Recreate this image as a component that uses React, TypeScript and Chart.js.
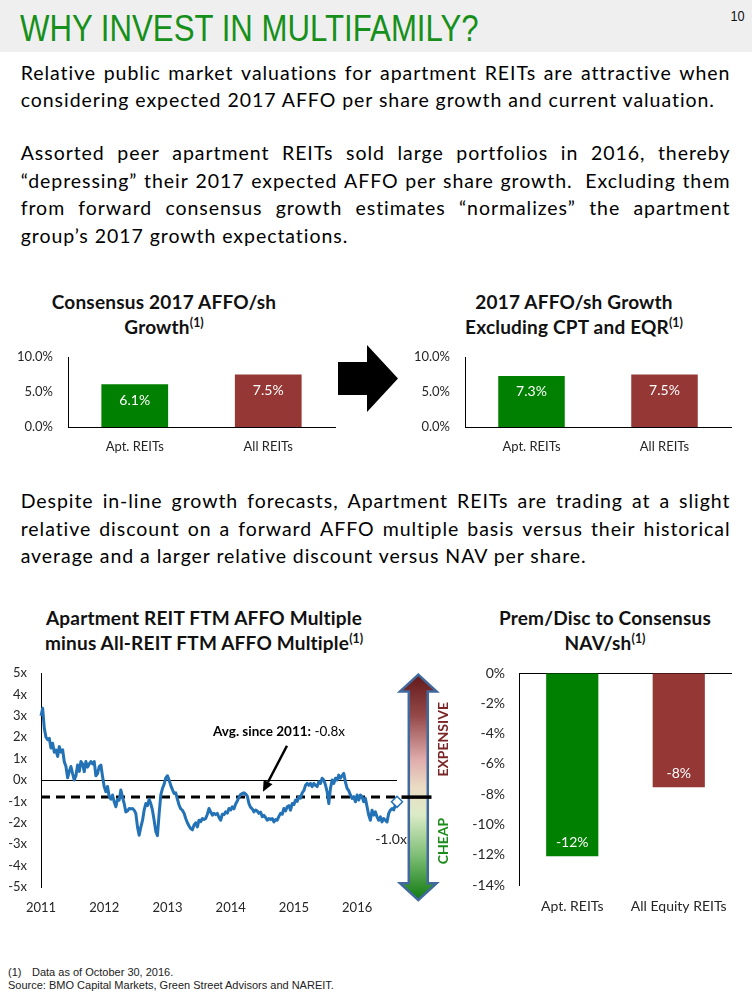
import React, { useEffect, useRef } from 'react';
import { Chart, registerables } from 'chart.js';

Chart.register(...registerables);
const LATO = 'Lato, "Open Sans", sans-serif';
Chart.defaults.font.family = LATO;
Chart.defaults.color = '#262626';

// ---------------- data ----------------
const GROWTH_CATEGORIES = ['Apt. REITs', 'All REITs'];
const CONSENSUS_GROWTH = [6.1, 7.5];
const GROWTH_EX_CPT_EQR = [7.3, 7.5];

const NAV_CATEGORIES = ['Apt. REITs', 'All Equity REITs'];
const NAV_PREM_DISC = [-12.1, -7.55];

const YEAR_TICKS = [2011, 2012, 2013, 2014, 2015, 2016];
const SPREAD_FIRST_DATE = 2011.0;
const SPREAD_LAST_DATE = 2016.63;
const SPREAD_VALUES = [
  3.0, 3.35, 2.4, 2.0, 1.88, 1.95, 1.5, 1.72, 1.3, 1.4,
  1.1, 1.56, 1.3, 1.41, 0.85, 0.63, 0.1, 0.4, 0.63, 0.3,
  0.0, 0.2, 0.7, 0.4, 0.86, 0.75, 0.39, 0.86, 0.6, 0.75,
  0.86, 0.75, 0.86, 0.2, 0.3, 0.63, 0.7, 0.16, -0.31, -0.55,
  -0.3, -0.78, -0.9, -0.7, -1.02, -1.25, -0.9, -0.94, -0.47, -0.8,
  -1.1, -1.49, -1.45, -1.33, -1.35, -1.33, -1.41, -1.56, -2.19, -2.58,
  -2.2, -1.9, -1.41, -1.1, -1.2, -0.9, -1.1, -1.41, -1.88, -2.4,
  -2.6, -1.6, -0.7, -0.4, -0.2, 0.1, 0.2, 0.0, -0.25, -0.45,
  -0.63, -0.6, -0.9, -1.17, -1.35, -1.41, -1.55, -1.8, -2.0, -2.15,
  -2.27, -2.33, -2.1, -2.0, -2.19, -1.88, -1.95, -1.8, -1.85, -1.8,
  -1.6, -1.33, -1.5, -1.64, -1.56, -1.62, -1.56, -1.75, -1.88, -1.6,
  -1.62, -1.49, -1.55, -1.33, -1.4, -1.25, -1.35, -1.12, -0.98, -0.8,
  -0.68, -0.63, -0.6, -0.65, -0.75, -1.1, -1.28, -1.35, -1.49, -1.4,
  -1.45, -1.56, -1.5, -1.72, -1.65, -1.75, -1.88, -1.8, -1.85, -1.8,
  -1.96, -1.85, -1.88, -1.7, -1.56, -1.6, -1.33, -1.45, -1.25, -1.2,
  -1.41, -1.1, -1.15, -0.94, -1.0, -0.78, -0.85, -0.6, -0.5, -0.25,
  -0.16, -0.25, -0.16, -0.31, -0.16, -0.25, -0.31, -0.08, -0.16, 0.08,
  0.0, -0.23, -0.55, -1.1, -0.4, 0.0, -0.16, 0.08, 0.0, 0.23,
  0.08, 0.2, 0.31, -0.1, -0.39, -0.5, -0.7, -0.86, -0.78, -1.02,
  -0.7, -0.94, -0.7, -0.78, -1.02, -0.86, -1.25, -1.64, -1.88, -1.41,
  -1.64, -1.49, -1.72, -1.88, -1.72, -1.96, -1.8, -1.88, -1.96, -1.56,
  -1.41, -1.33, -1.4, -1.17, -1.02,
];
const AVG_SINCE_2011 = -0.8;
const LAST_LABEL = '-1.0x';

// ---------------- colours ----------------
const GREEN = '#008000';
const RED = '#953735';
const BLUE = '#2372b6';
const TITLE_GREEN = '#16901a';

// ---------------- helpers ----------------
function ChartCanvas({ make, left, top, width, height }: any) {
  const ref = useRef<HTMLCanvasElement>(null);
  useEffect(() => {
    const chart = new Chart(ref.current as HTMLCanvasElement, make());
    return () => chart.destroy();
  }, []);
  return (
    <canvas
      ref={ref}
      width={width}
      height={height}
      style={{ position: 'absolute', left, top, width, height }}
    />
  );
}

function fixY(width: number) {
  return (s: any) => {
    s.width = width;
    s.paddingTop = 0;
    s.paddingBottom = 0;
  };
}

function barConfig(o: any) {
  const valueLabels = {
    id: 'valueLabels',
    afterDatasetsDraw(chart: any) {
      const ctx = chart.ctx;
      const meta = chart.getDatasetMeta(0);
      ctx.save();
      ctx.fillStyle = '#ffffff';
      ctx.font = `${o.valueSize}px ${LATO}`;
      ctx.textAlign = 'center';
      ctx.textBaseline = 'middle';
      meta.data.forEach((bar: any, i: number) => {
        const v = o.values[i];
        const y = v >= 0 ? bar.y + 16 : bar.y - 14;
        ctx.fillText(o.valueFmt(v), bar.x, y);
      });
      ctx.restore();
    },
  };
  return {
    type: 'bar',
    data: {
      labels: o.labels,
      datasets: [
        {
          data: o.values,
          backgroundColor: o.colors,
          borderWidth: 0,
          barPercentage: 1,
          categoryPercentage: o.catPct,
        },
      ],
    },
    options: {
      responsive: false,
      animation: false,
      events: [],
      layout: { padding: o.pad },
      plugins: { legend: { display: false }, tooltip: { enabled: false } },
      scales: {
        x: {
          grid: { display: false, drawTicks: false },
          border: { display: o.xBorder, color: '#000', width: 1 },
          ticks: { padding: o.tickPadX, font: { size: o.catSize }, color: '#262626', maxRotation: 0 },
          afterFit: (s: any) => {
            s.height = o.xHeight;
          },
        },
        y: {
          min: o.min,
          max: o.max,
          grid: {
            display: o.zeroLine,
            drawTicks: false,
            color: (c: any) => (c.tick && c.tick.value === 0 ? '#000' : 'rgba(0,0,0,0)'),
            lineWidth: 1,
          },
          border: { display: true, color: '#000', width: 1 },
          ticks: {
            stepSize: o.step,
            padding: o.tickPadY,
            callback: (v: any) => o.tickFmt(Number(v)),
            font: { size: o.tickSize },
            color: '#262626',
          },
          afterFit: fixY(o.yWidth),
        },
      },
    },
    plugins: [valueLabels],
  };
}

const makeConsensus = () =>
  barConfig({
    labels: GROWTH_CATEGORIES,
    values: CONSENSUS_GROWTH,
    colors: [GREEN, RED],
    min: 0,
    max: 10,
    step: 5,
    tickFmt: (v: number) => v.toFixed(1) + '%',
    valueFmt: (v: number) => v.toFixed(1) + '%',
    yWidth: 68,
    xHeight: 33,
    pad: { top: 12, right: 10, left: 0, bottom: 0 },
    tickSize: 13,
    catSize: 13,
    valueSize: 14,
    catPct: 0.5,
    xBorder: true,
    zeroLine: false,
    tickPadX: 12,
    tickPadY: 15,
  });

const makeExcl = () =>
  barConfig({
    labels: GROWTH_CATEGORIES,
    values: GROWTH_EX_CPT_EQR,
    colors: [GREEN, RED],
    min: 0,
    max: 10,
    step: 5,
    tickFmt: (v: number) => v.toFixed(1) + '%',
    valueFmt: (v: number) => v.toFixed(1) + '%',
    yWidth: 89,
    xHeight: 33,
    pad: { top: 12, right: 10, left: 0, bottom: 0 },
    tickSize: 13,
    catSize: 13,
    valueSize: 14,
    catPct: 0.5,
    xBorder: true,
    zeroLine: false,
    tickPadX: 12,
    tickPadY: 15,
  });

const makeNav = () =>
  barConfig({
    labels: NAV_CATEGORIES,
    values: NAV_PREM_DISC,
    colors: [GREEN, RED],
    min: -14,
    max: 0,
    step: 2,
    tickFmt: (v: number) => v.toFixed(0) + '%',
    valueFmt: (v: number) => v.toFixed(0) + '%',
    yWidth: 79,
    xHeight: 35,
    pad: { top: 13, right: 20, left: 0, bottom: 0 },
    tickSize: 14,
    catSize: 14,
    valueSize: 14,
    catPct: 0.49,
    xBorder: false,
    zeroLine: true,
    tickPadX: 13,
    tickPadY: 14,
  });

const spreadDecor = {
  id: 'spreadDecor',
  beforeDatasetsDraw(chart: any) {
    const { ctx, chartArea: a, scales } = chart;
    const avgY = scales.y.getPixelForValue(AVG_SINCE_2011);
    ctx.save();
    ctx.strokeStyle = '#000';
    ctx.lineWidth = 3;
    ctx.setLineDash([9, 6]);
    ctx.beginPath();
    ctx.moveTo(a.left, avgY);
    ctx.lineTo(a.right + 2, avgY);
    ctx.stroke();
    ctx.restore();
  },
  afterDraw(chart: any) {
    const { ctx, chartArea: a, scales } = chart;
    const x = scales.x;
    const y = scales.y;
    const avgY = y.getPixelForValue(AVG_SINCE_2011);

    // gradient double arrow (expensive / cheap)
    const cx = a.right + 21.3;
    const top = a.top + 1.7;
    const bot = a.bottom + 13;
    const hw = 18.3;
    const sw = 9.5;
    const hh = 16.7;
    ctx.save();
    const g = ctx.createLinearGradient(0, top, 0, bot);
    g.addColorStop(0, '#62191a');
    g.addColorStop(0.18, '#944848');
    g.addColorStop(0.38, '#e0adad');
    g.addColorStop(0.5, '#eadcc4');
    g.addColorStop(0.62, '#dcebc8');
    g.addColorStop(0.8, '#7fbf77');
    g.addColorStop(1, '#107a10');
    ctx.beginPath();
    ctx.moveTo(cx, top);
    ctx.lineTo(cx + hw, top + hh);
    ctx.lineTo(cx + sw, top + hh);
    ctx.lineTo(cx + sw, bot - hh);
    ctx.lineTo(cx + hw, bot - hh);
    ctx.lineTo(cx, bot);
    ctx.lineTo(cx - hw, bot - hh);
    ctx.lineTo(cx - sw, bot - hh);
    ctx.lineTo(cx - sw, top + hh);
    ctx.lineTo(cx - hw, top + hh);
    ctx.closePath();
    ctx.fillStyle = g;
    ctx.fill();
    ctx.strokeStyle = '#41699e';
    ctx.lineWidth = 2.5;
    ctx.lineJoin = 'miter';
    ctx.stroke();

    // solid avg marker across the arrow
    ctx.strokeStyle = '#000';
    ctx.lineWidth = 3.5;
    ctx.beginPath();
    ctx.moveTo(a.right + 4.5, avgY);
    ctx.lineTo(a.right + 34.5, avgY);
    ctx.stroke();

    // EXPENSIVE / CHEAP
    ctx.font = `bold 14px ${LATO}`;
    ctx.textAlign = 'center';
    ctx.textBaseline = 'middle';
    ctx.save();
    ctx.translate(cx + 25, y.getPixelForValue(1.9));
    ctx.rotate(-Math.PI / 2);
    ctx.fillStyle = '#7a2526';
    ctx.fillText('EXPENSIVE', 0, 0);
    ctx.restore();
    ctx.save();
    ctx.translate(cx + 25, y.getPixelForValue(-2.85));
    ctx.rotate(-Math.PI / 2);
    ctx.fillStyle = '#1b8c1b';
    ctx.fillText('CHEAP', 0, 0);
    ctx.restore();

    // last value label
    const meta = chart.getDatasetMeta(0);
    const last = meta.data[meta.data.length - 1];
    ctx.font = `14px ${LATO}`;
    ctx.fillStyle = '#262626';
    ctx.fillText(LAST_LABEL, last.x - 6, last.y + 38);

    // Avg annotation
    const tx = x.getPixelForValue(2013.72);
    const ty = y.getPixelForValue(2.06);
    ctx.textAlign = 'left';
    ctx.textBaseline = 'alphabetic';
    ctx.font = `bold 13.5px ${LATO}`;
    ctx.fillStyle = '#000';
    const boldTxt = 'Avg. since 2011:';
    ctx.fillText(boldTxt, tx, ty);
    const bw = ctx.measureText(boldTxt).width;
    ctx.font = `13.5px ${LATO}`;
    ctx.fillText(' -0.8x', tx + bw, ty);

    // arrow from label to average line
    const x0 = x.getPixelForValue(2014.89);
    const y0 = y.getPixelForValue(1.6);
    const x1 = x.getPixelForValue(2014.51);
    const y1 = y.getPixelForValue(-0.55);
    const ang = Math.atan2(y1 - y0, x1 - x0);
    const hl = 11;
    const hwid = 5;
    const bx = x1 - hl * Math.cos(ang);
    const by = y1 - hl * Math.sin(ang);
    ctx.strokeStyle = '#000';
    ctx.lineWidth = 2.5;
    ctx.beginPath();
    ctx.moveTo(x0, y0);
    ctx.lineTo(bx, by);
    ctx.stroke();
    ctx.beginPath();
    ctx.moveTo(x1, y1);
    ctx.lineTo(bx + hwid * Math.sin(ang), by - hwid * Math.cos(ang));
    ctx.lineTo(bx - hwid * Math.sin(ang), by + hwid * Math.cos(ang));
    ctx.closePath();
    ctx.fillStyle = '#000';
    ctx.fill();
    ctx.restore();
  },
};

const makeSpread = () => {
  const n = SPREAD_VALUES.length;
  const step = (SPREAD_LAST_DATE - SPREAD_FIRST_DATE) / (n - 1);
  const points = SPREAD_VALUES.map((v, i) => ({ x: SPREAD_FIRST_DATE + i * step, y: v }));
  return {
    type: 'line',
    data: {
      datasets: [
        {
          data: points,
          borderColor: BLUE,
          borderWidth: 3,
          borderJoinStyle: 'round',
          tension: 0,
          clip: false,
          pointRadius: (c: any) => (c.dataIndex === n - 1 ? 5.5 : 0),
          pointStyle: 'rectRot',
          pointBackgroundColor: '#ffffff',
          pointBorderColor: BLUE,
          pointBorderWidth: 1.5,
        },
      ],
    },
    options: {
      responsive: false,
      animation: false,
      events: [],
      layout: { padding: { top: 13, right: 63, left: 0, bottom: 0 } },
      plugins: { legend: { display: false }, tooltip: { enabled: false } },
      scales: {
        x: {
          type: 'linear',
          min: SPREAD_FIRST_DATE,
          max: SPREAD_LAST_DATE,
          afterBuildTicks: (s: any) => {
            s.ticks = YEAR_TICKS.map((v) => ({ value: v }));
          },
          grid: { display: false, drawTicks: false },
          border: { display: false },
          ticks: { padding: 13, callback: (v: any) => String(v), font: { size: 13 }, color: '#262626', maxRotation: 0 },
          afterFit: (s: any) => {
            s.height = 33;
          },
        },
        y: {
          min: -5,
          max: 5,
          grid: {
            drawTicks: false,
            color: (c: any) => (c.tick && c.tick.value === 0 ? '#000' : 'rgba(0,0,0,0)'),
            lineWidth: 1,
          },
          border: { display: true, color: '#000', width: 1 },
          ticks: { stepSize: 1, padding: 14, callback: (v: any) => `${v}x`, font: { size: 13 }, color: '#262626' },
          afterFit: fixY(41),
        },
      },
    },
    plugins: [spreadDecor],
  };
};

// ---------------- text ----------------
const P1 = [
  'Relative public market valuations for apartment REITs are attractive when',
  'considering expected 2017 AFFO per share growth and current valuation.',
];
const P1_Y = [80.7, 107.7];
const P2 = [
  'Assorted peer apartment REITs sold large portfolios in 2016, thereby',
  '“depressing” their 2017 expected AFFO per share growth.\u00a0 Excluding them',
  'from forward consensus growth estimates “normalizes” the apartment',
  'group’s 2017 growth expectations.',
];
const P2_Y = [160.3, 188, 215.5, 242.8];
const P3 = [
  'Despite in-line growth forecasts, Apartment REITs are trading at a slight',
  'relative discount on a forward AFFO multiple basis versus their historical',
  'average and a larger relative discount versus NAV per share.',
];
const P3_Y = [508.3, 536, 563.3];

const BODY_SIZE = 19.5;
const BODY_SPACING = 0.95;
const BODY_LEFT = 20.7;
const BODY_RIGHT = 730.5;
const LATO_BASE = 0.887;
const LIB_BASE = 0.846;

function Para({ lines, ys }: { lines: string[]; ys: number[] }) {
  return (
    <>
      {lines.map((ln, i) => {
        const last = i === lines.length - 1;
        const top = ys[i] - LATO_BASE * BODY_SIZE;
        const common: any = {
          position: 'absolute',
          left: BODY_LEFT,
          top,
          fontFamily: LATO,
          fontSize: BODY_SIZE,
          letterSpacing: BODY_SPACING,
          lineHeight: `${BODY_SIZE}px`,
          color: '#000',
          whiteSpace: 'nowrap',
        };
        if (last) return <div key={i} style={common}>{ln}</div>;
        return (
          <div
            key={i}
            style={{ ...common, width: BODY_RIGHT - BODY_LEFT, display: 'flex', justifyContent: 'space-between' }}
          >
            {ln.split(' ').filter((w) => w.length > 0).map((w, j) => (
              <span key={j}>{w}</span>
            ))}
          </div>
        );
      })}
    </>
  );
}

const SUP: any = { fontSize: '0.65em', position: 'relative', top: '-0.5em', letterSpacing: 0 };

function ChartTitle({ cx, y, lines }: { cx: number; y: number; lines: [string, boolean][] }) {
  const size = 19;
  return (
    <>
      {lines.map(([t, sup], i) => (
        <div
          key={i}
          style={{
            position: 'absolute',
            left: cx - 200,
            width: 400,
            textAlign: 'center',
            top: y + i * 24.5 - LATO_BASE * size,
            fontFamily: LATO,
            fontWeight: 700,
            fontSize: size,
            letterSpacing: 0.2,
            lineHeight: `${size}px`,
            color: '#111',
            whiteSpace: 'nowrap',
          }}
        >
          {t}
          {sup ? <span style={SUP}>(1)</span> : null}
        </div>
      ))}
    </>
  );
}

export default function App() {
  const arial = '"Liberation Sans", Arial, sans-serif';
  return (
    <div
      style={{
        position: 'absolute',
        left: 0,
        top: 0,
        width: 752,
        height: 996,
        background: '#ffffff',
        overflow: 'hidden',
      }}
    >
      {/* header bar */}
      <div style={{ position: 'absolute', left: 0, top: 0, width: 752, height: 52, background: '#efefef' }} />
      <div
        style={{
          position: 'absolute',
          left: 20,
          top: 41 - LIB_BASE * 37,
          fontFamily: arial,
          fontSize: 37,
          lineHeight: '37px',
          color: TITLE_GREEN,
          whiteSpace: 'nowrap',
          transform: 'scaleX(0.843)',
          transformOrigin: 'left top',
        }}
      >
        WHY INVEST IN MULTIFAMILY?
      </div>
      <div
        style={{
          position: 'absolute',
          right: 7,
          top: 21 - LIB_BASE * 15,
          fontFamily: arial,
          fontSize: 15,
          lineHeight: '15px',
          color: '#111',
          transform: 'scaleX(0.85)',
          transformOrigin: 'right top',
        }}
      >
        10
      </div>

      <Para lines={P1} ys={P1_Y} />
      <Para lines={P2} ys={P2_Y} />
      <Para lines={P3} ys={P3_Y} />

      {/* top charts */}
      <ChartTitle cx={164} y={309} lines={[['Consensus 2017 AFFO/sh', false], ['Growth', true]]} />
      <ChartTitle cx={574} y={309} lines={[['2017 AFFO/sh Growth', false], ['Excluding CPT and EQR', true]]} />
      <ChartCanvas make={makeConsensus} left={0} top={345} width={345} height={115} />
      <ChartCanvas make={makeExcl} left={376} top={345} width={365} height={115} />

      <svg style={{ position: 'absolute', left: 0, top: 0 }} width={752} height={460}>
        <polygon points="338,362 367,362 367,345 398,378.5 367,412 367,395 338,395" fill="#000" />
      </svg>

      {/* bottom charts */}
      <ChartTitle
        cx={204}
        y={625}
        lines={[['Apartment REIT FTM AFFO Multiple', false], ['minus All-REIT FTM AFFO Multiple', true]]}
      />
      <ChartTitle cx={605} y={625} lines={[['Prem/Disc to Consensus', false], ['NAV/sh', true]]} />
      <ChartCanvas make={makeSpread} left={0} top={660} width={460} height={260} />
      <ChartCanvas make={makeNav} left={440} top={660} width={312} height={260} />

      {/* footnotes */}
      <div
        style={{
          position: 'absolute',
          left: 8,
          top: 976.5 - LIB_BASE * 11,
          fontFamily: arial,
          fontSize: 11,
          lineHeight: '11px',
          color: '#222',
          whiteSpace: 'nowrap',
        }}
      >
        (1)
        <span style={{ position: 'absolute', left: 24 }}>Data as of October 30, 2016.</span>
      </div>
      <div
        style={{
          position: 'absolute',
          left: 8,
          top: 989.5 - LIB_BASE * 11,
          fontFamily: arial,
          fontSize: 11,
          lineHeight: '11px',
          color: '#222',
          whiteSpace: 'nowrap',
        }}
      >
        Source: BMO Capital Markets, Green Street Advisors and NAREIT.
      </div>
    </div>
  );
}
